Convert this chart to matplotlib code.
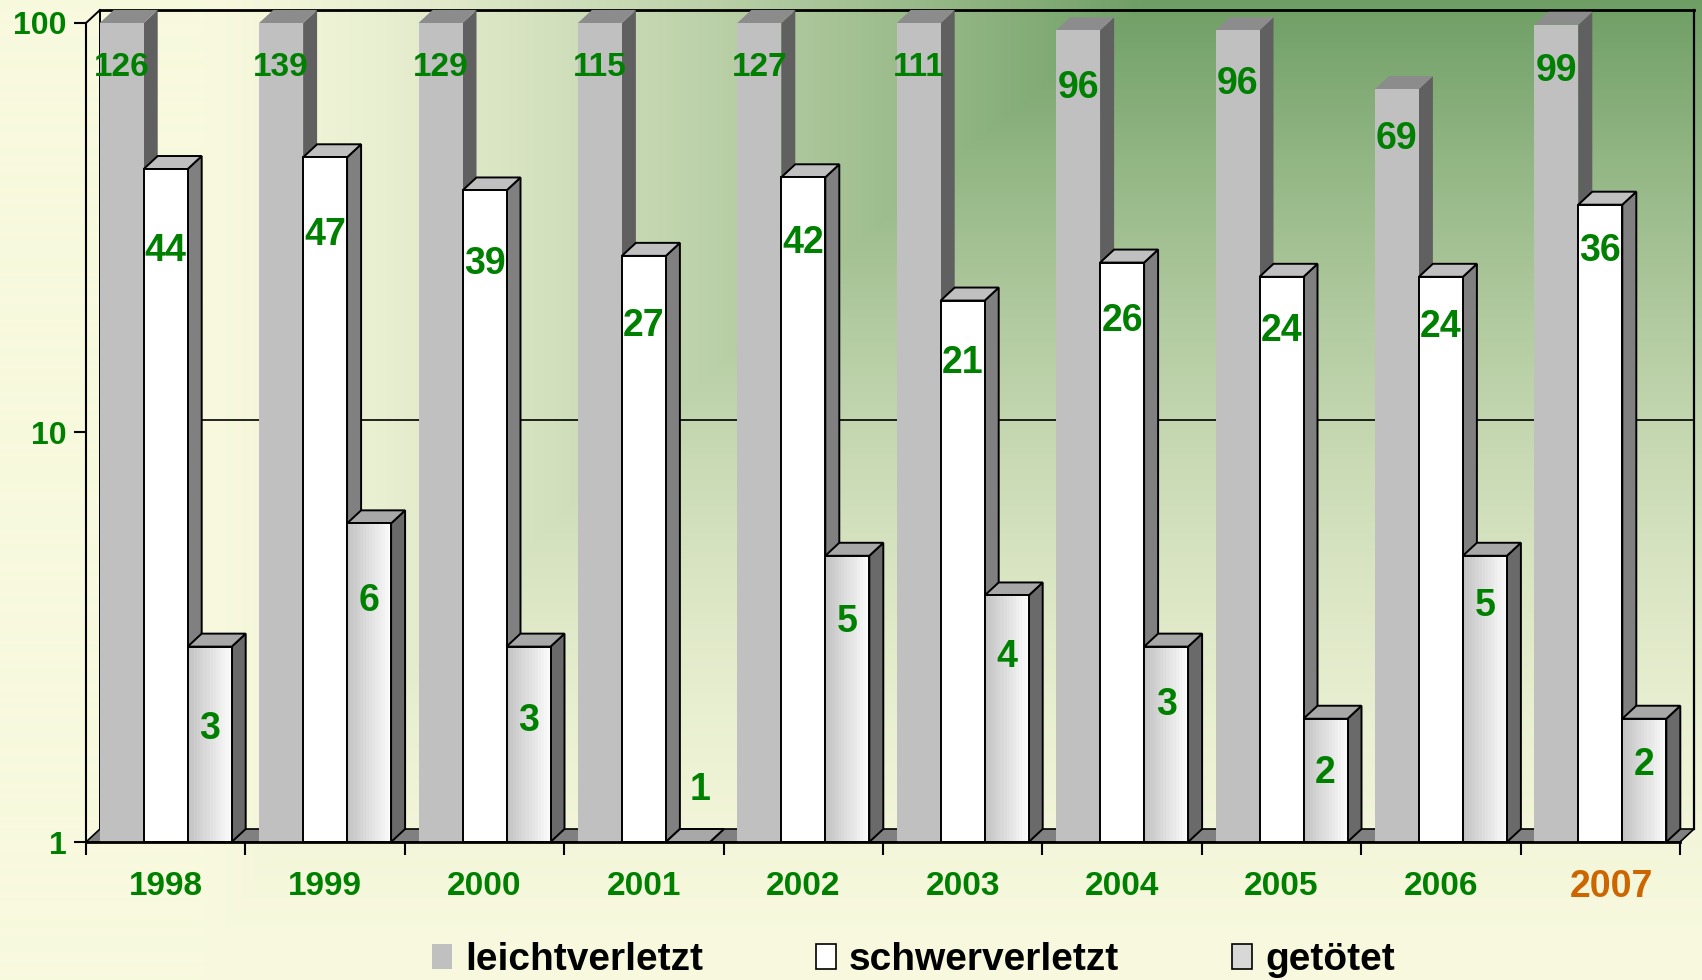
import numpy as np
import matplotlib
matplotlib.use('Agg')
import matplotlib.pyplot as plt
from matplotlib.patches import Polygon, Patch
from matplotlib.ticker import NullLocator

# ---------------- data ----------------
years = ['1998', '1999', '2000', '2001', '2002', '2003', '2004', '2005', '2006', '2007']
leichtverletzt = [126, 139, 129, 115, 127, 111, 96, 96, 69, 99]
schwerverletzt = [44, 47, 39, 27, 42, 21, 26, 24, 24, 36]
getoetet = [3, 6, 3, 1, 5, 4, 3, 2, 5, 2]
series_names = ['leichtverletzt', 'schwerverletzt', 'getötet']

plt.rcParams['font.family'] = ['Liberation Sans', 'DejaVu Sans']
plt.rcParams['font.weight'] = 'bold'

W, H, DPI = 1702, 980, 100
fig = plt.figure(figsize=(W / DPI, H / DPI), dpi=DPI)

# ---------------- background gradient ----------------
bg = fig.add_axes([0, 0, 1, 1], zorder=-10)
yy, xx = np.mgrid[0:H, 0:W]
u = xx / W
v = 1 - yy / H
f = np.clip((u - 0.12) * 1.8, 0, 1) ** 1.3
g = np.clip(v, 0, 1) ** 1.7
t = np.minimum(f, g)[..., None]
pale = np.array([248, 249, 222]) / 255
green = np.array([110, 158, 100]) / 255
bg.imshow(pale * (1 - t) + green * t, aspect='auto', extent=[0, 1, 0, 1], origin='upper')
bg.axis('off')

# ---------------- main axes (front plane) ----------------
LEFT_PX, RIGHT_PX, TOP_PX, BOT_PX = 86, 1680, 23, 842
ax = fig.add_axes([LEFT_PX / W, 1 - BOT_PX / H, (RIGHT_PX - LEFT_PX) / W, (BOT_PX - TOP_PX) / H])
ax.set_facecolor('none')
ax.set_yscale('log')
YMIN, YMAX = 1, 100
XMIN, XMAX = -0.5, len(years) - 0.5
ax.set_xlim(XMIN, XMAX)
ax.set_ylim(YMIN, YMAX)

# depth offsets expressed in data units
DX_PX, DY_PX = 14, 13
px_x = (RIGHT_PX - LEFT_PX) / (XMAX - XMIN)
px_dec = (BOT_PX - TOP_PX) / np.log10(YMAX / YMIN)
ddx = DX_PX / px_x
kdy = 10 ** (DY_PX / px_dec)

# back walls, floor and gridline
ax.plot([XMIN + ddx, XMAX + ddx], [YMAX * kdy] * 2, color='black', lw=2.0, zorder=1.2, clip_on=False)
ax.plot([XMAX + ddx] * 2, [YMIN * kdy, YMAX * kdy], color='black', lw=1.6, zorder=1.2, clip_on=False)
ax.plot([XMIN + ddx] * 2, [YMIN * kdy, YMAX * kdy], color='black', lw=1.4, zorder=1.2, clip_on=False)
ax.plot([XMIN, XMIN + ddx], [YMAX, YMAX * kdy], color='black', lw=1.4, zorder=1.2, clip_on=False)
ax.plot([XMIN + ddx, XMAX + ddx], [10 * kdy] * 2, color='black', lw=1.2, zorder=1.2, clip_on=False)
floor = Polygon([(XMIN, YMIN), (XMAX, YMIN), (XMAX + ddx, YMIN * kdy), (XMIN + ddx, YMIN * kdy)],
                closed=True, facecolor='#808080', edgecolor='black', lw=1.2, zorder=1.5, clip_on=False)
ax.add_patch(floor)

# ---------------- 3D bars ----------------
bw = 44 / px_x
x = np.arange(len(years))
data = [leichtverletzt, schwerverletzt, getoetet]
styles = [
    dict(front='#C0C0C0', side='#606060', top='#8C8C8C', edge='none', lw=0, grad=False),
    dict(front='#FFFFFF', side='#808080', top='#C0C0C0', edge='black', lw=1.4, grad=False),
    dict(front='#E0E0E0', side='#6A6A6A', top='#A8A8A8', edge='black', lw=1.4, grad=True),
]
grad_lo = np.array([196, 196, 196]) / 255
grad_hi = np.array([250, 250, 250]) / 255
NSTRIP = 14

for i in range(len(years)):
    for s in range(3):
        st = styles[s]
        val = data[s][i]
        hc = min(val, YMAX)
        x0 = x[i] + (s - 1.5) * bw
        z = 3 + (i * 3 + s) * 0.01
        side = Polygon([(x0 + bw, YMIN), (x0 + bw, hc), (x0 + bw + ddx, hc * kdy), (x0 + bw + ddx, YMIN * kdy)],
                       closed=True, facecolor=st['side'], edgecolor=st['edge'], lw=st['lw'],
                       zorder=z, clip_on=False)
        top = Polygon([(x0, hc), (x0 + bw, hc), (x0 + bw + ddx, hc * kdy), (x0 + ddx, hc * kdy)],
                      closed=True, facecolor=st['top'], edgecolor=st['edge'], lw=st['lw'],
                      zorder=z, clip_on=False)
        ax.add_patch(side)
        ax.add_patch(top)
        if st['grad']:
            for k in range(NSTRIP):
                c = grad_lo + (grad_hi - grad_lo) * k / (NSTRIP - 1)
                b = ax.bar(x0 + k * bw / NSTRIP, hc - YMIN, bottom=YMIN, width=bw / NSTRIP * 1.05,
                           align='edge', color=c, lw=0, antialiased=False, zorder=z + 0.001)
                for p in b:
                    p.set_clip_on(False)
            b = ax.bar(x0, hc - YMIN, bottom=YMIN, width=bw, align='edge', facecolor='none',
                       edgecolor=st['edge'], lw=st['lw'], zorder=z + 0.002)
        else:
            b = ax.bar(x0, hc - YMIN, bottom=YMIN, width=bw, align='edge', facecolor=st['front'],
                       edgecolor=st['edge'], lw=st['lw'], zorder=z + 0.002)
        for p in b:
            p.set_clip_on(False)

        # value label
        if val <= YMIN:
            off, dxl = -52, 12
        elif val > YMAX:
            off, dxl = 45, 0
        else:
            off, dxl = 82 - 4 * i, 0
        fs = 24 if val >= 100 else 27
        ax.annotate(str(val), xy=(x0 + bw / 2, hc), xytext=(dxl, -off), textcoords='offset pixels',
                    ha='center', va='center', color='#008000', fontsize=fs, fontweight='bold',
                    zorder=20, annotation_clip=False)

# ---------------- axes styling ----------------
for sp in ['top', 'right']:
    ax.spines[sp].set_visible(False)
ax.spines['left'].set_linewidth(1.5)
ax.spines['bottom'].set_linewidth(2.0)
ax.spines['left'].set_zorder(30)
ax.spines['bottom'].set_zorder(30)

ax.set_yticks([1, 10, 100])
ax.set_yticklabels(['1', '10', '100'])
ax.yaxis.set_minor_locator(NullLocator())
ax.tick_params(axis='y', which='major', length=8.6, width=1.5, pad=5.5, labelsize=23,
               labelcolor='#008000', direction='out')

# year labels (last one highlighted)
ax.set_xticks(x)
ax.set_xticklabels(years[:-1] + [''])
ax.set_xticks(np.arange(XMIN, XMAX + 0.01, 1), minor=True)
ax.tick_params(axis='x', which='major', length=0, pad=21, labelsize=24, labelcolor='#008000')
ax.tick_params(axis='x', which='minor', length=9.4, width=1.5, direction='out')
ax.annotate(years[-1], xy=(x[-1], YMIN), xytext=(11, -45), textcoords='offset pixels',
            ha='center', va='center', color='#CC6600', fontsize=27, fontweight='bold',
            annotation_clip=False)

# ---------------- legend ----------------
handles = [Patch(facecolor='#C0C0C0', edgecolor='none'),
           Patch(facecolor='white', edgecolor='black', lw=1.2),
           Patch(facecolor='#D8D8D8', edgecolor='black', lw=1.2)]
fig.legend(handles, series_names, loc='lower left', bbox_to_anchor=(432 / W, 0.002), ncol=3,
           frameon=False, fontsize=28, handlelength=0.52, handleheight=0.64, handletextpad=0.33,
           columnspacing=2.9, borderpad=0, borderaxespad=0)

fig.savefig('out.png', dpi=DPI)
